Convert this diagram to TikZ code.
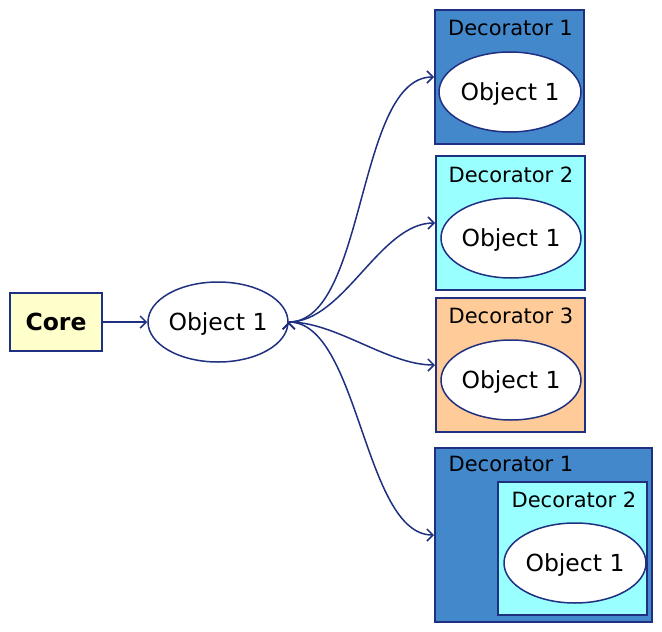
\documentclass[tikz,border=0pt]{standalone}
\usepackage{fontspec}
\setmainfont{DejaVu Sans}
\usetikzlibrary{shapes.geometric,arrows.meta}

\definecolor{edgeblue}{RGB}{31,48,128}
\definecolor{decblue}{RGB}{68,136,204}
\definecolor{deccyan}{RGB}{153,255,255}
\definecolor{decorange}{RGB}{255,204,153}
\definecolor{coreyellow}{RGB}{255,255,204}

\tikzset{
	objnode/.style={shape=ellipse,draw=edgeblue,line width=1.5pt,fill=white,minimum width=140pt,minimum height=80pt,inner sep=0pt,text height=17pt,text depth=0pt,font=\fontsize{23.5}{28}\selectfont},
	decbox/.style={shape=rectangle,draw=edgeblue,line width=2pt,inner sep=0pt},
	declabel/.style={font=\fontsize{21}{25}\selectfont,inner sep=0pt},
	link/.style={draw=edgeblue,line width=1.5pt,-{Straight Barb[length=6pt,width=12pt,line width=1.5pt]}}
}

\begin{document}
\begin{tikzpicture}[x=1pt,y=-1pt]
	\useasboundingbox (0,0) rectangle (662,632);

	\node[decbox,fill=coreyellow,minimum width=92pt,minimum height=58pt,font=\fontsize{23.5}{28}\selectfont\bfseries] (core) at (56,322) {Core};
	\node[objnode] (obj) at (218,322) {Object 1};

	\node[decbox,fill=decblue,minimum width=149pt,minimum height=134pt] (dec1) at (509.5,77) {};
	\node[declabel] (dec1lbl) at (510.5,28) {Decorator 1};
	\node[objnode,minimum width=142pt] (dec1obj) at (510,92) {Object 1};

	\node[decbox,fill=deccyan,minimum width=149pt,minimum height=134pt] (dec2) at (510.5,223) {};
	\node[declabel] (dec2lbl) at (511,175) {Decorator 2};
	\node[objnode] (dec2obj) at (511,238) {Object 1};

	\node[decbox,fill=decorange,minimum width=149pt,minimum height=134pt] (dec3) at (510.5,365) {};
	\node[declabel] (dec3lbl) at (511,316) {Decorator 3};
	\node[objnode] (dec3obj) at (511,380) {Object 1};

	\node[decbox,fill=decblue,minimum width=217pt,minimum height=174pt] (dec12) at (543.5,535) {};
	\node[declabel] (dec12lbl) at (511,464) {Decorator 1};
	\node[decbox,fill=deccyan,minimum width=149pt,minimum height=133pt] (dec12in) at (572.5,548.5) {};
	\node[declabel] (dec12inlbl) at (574,500) {Decorator 2};
	\node[objnode,minimum width=142pt] (dec12obj) at (575,563) {Object 1};

	\path [link] (core) edge (obj);
	\path [link] (obj.east) edge[out=0,in=180,looseness=0.7] (dec1.west);
	\path [link] (obj.east) edge[out=0,in=180,looseness=0.8] (dec2.west);
	\path [link] (obj.east) edge[out=0,in=180,looseness=0.8] (dec3.west);
	\path [link] (obj.east) edge[out=0,in=180,looseness=0.7] (dec12.west);
\end{tikzpicture}
\end{document}
